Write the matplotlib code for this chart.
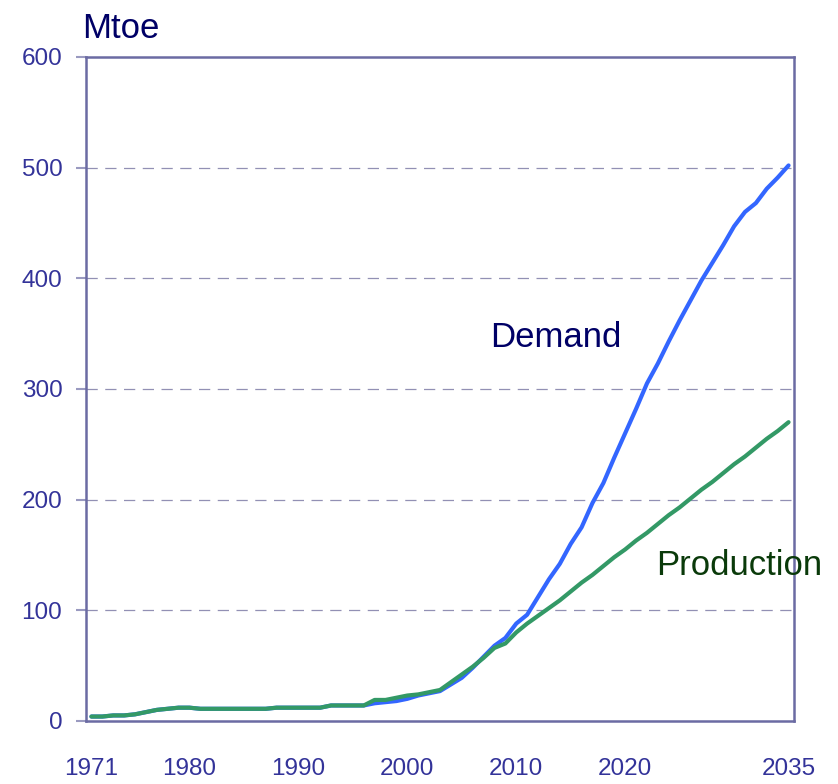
import matplotlib.pyplot as plt
import numpy as np

plt.rcParams['font.family'] = ['Liberation Sans', 'DejaVu Sans']

years = list(range(1971, 2036))
demand = [4, 4, 5, 5, 6, 8, 10, 11, 12, 12,
          11, 11, 11, 11, 11, 11, 11, 12, 12, 12,
          12, 12, 14, 14, 14, 14, 16, 17, 18, 20,
          23, 25, 27, 33, 39, 48, 58, 68, 75, 88,
          96, 112, 128, 142, 160, 175, 197, 215, 238, 260,
          282, 305, 323, 343, 362, 380, 398, 414, 430, 447,
          460, 468, 481, 491, 502]
production = [4, 4, 5, 5, 6, 8, 10, 11, 12, 12,
              11, 11, 11, 11, 11, 11, 11, 12, 12, 12,
              12, 12, 14, 14, 14, 14, 19, 19, 21, 23,
              24, 26, 28, 35, 42, 49, 57, 66, 70, 80,
              88, 95, 102, 109, 117, 125, 132, 140, 148, 155,
              163, 170, 178, 186, 193, 201, 209, 216, 224, 232,
              239, 247, 255, 262, 270]
xtick_years = [1971, 1980, 1990, 2000, 2010, 2020, 2035]
yticks = [0, 100, 200, 300, 400, 500, 600]

spine_col = '#6B6BA3'
tick_col = '#333399'

fig = plt.figure(figsize=(8.38, 7.84), dpi=100)
ax = fig.add_axes([0.1026, 0.0804, 0.8449, 0.8469])

# demand and production curves
ax.plot(years, demand, color='#3366FF', lw=3.0, solid_capstyle='round')
ax.plot(years, production, color='#339966', lw=3.0, solid_capstyle='round')

ax.set_xlim(1970.5, 2035.5)
ax.set_ylim(0, 600)
ax.set_xticks(xtick_years)
ax.set_yticks(yticks)
ax.tick_params(axis='x', length=0, pad=27, labelsize=17.5, labelcolor=tick_col)
ax.tick_params(axis='y', length=7, width=1.5, color='#9A9AC0', pad=10,
               labelsize=17.5, labelcolor=tick_col)

for y in yticks[1:-1]:
    ax.axhline(y, color='#9290B4', lw=0.9, ls=(0, (9, 6)), zorder=0)

for s in ax.spines.values():
    s.set_color(spine_col)
    s.set_linewidth(1.8)

fig.text(0.098, 0.952, 'Mtoe', fontsize=25, color='#000066', ha='left', va='baseline')
ax.text(2007.6, 338, 'Demand', fontsize=25, color='#000066', ha='left', va='baseline')
ax.text(2022.8, 132, 'Production', fontsize=25, color='#0A3A0A', ha='left', va='baseline',
        clip_on=False)

plt.savefig('out.png', dpi=100)
plt.close()
